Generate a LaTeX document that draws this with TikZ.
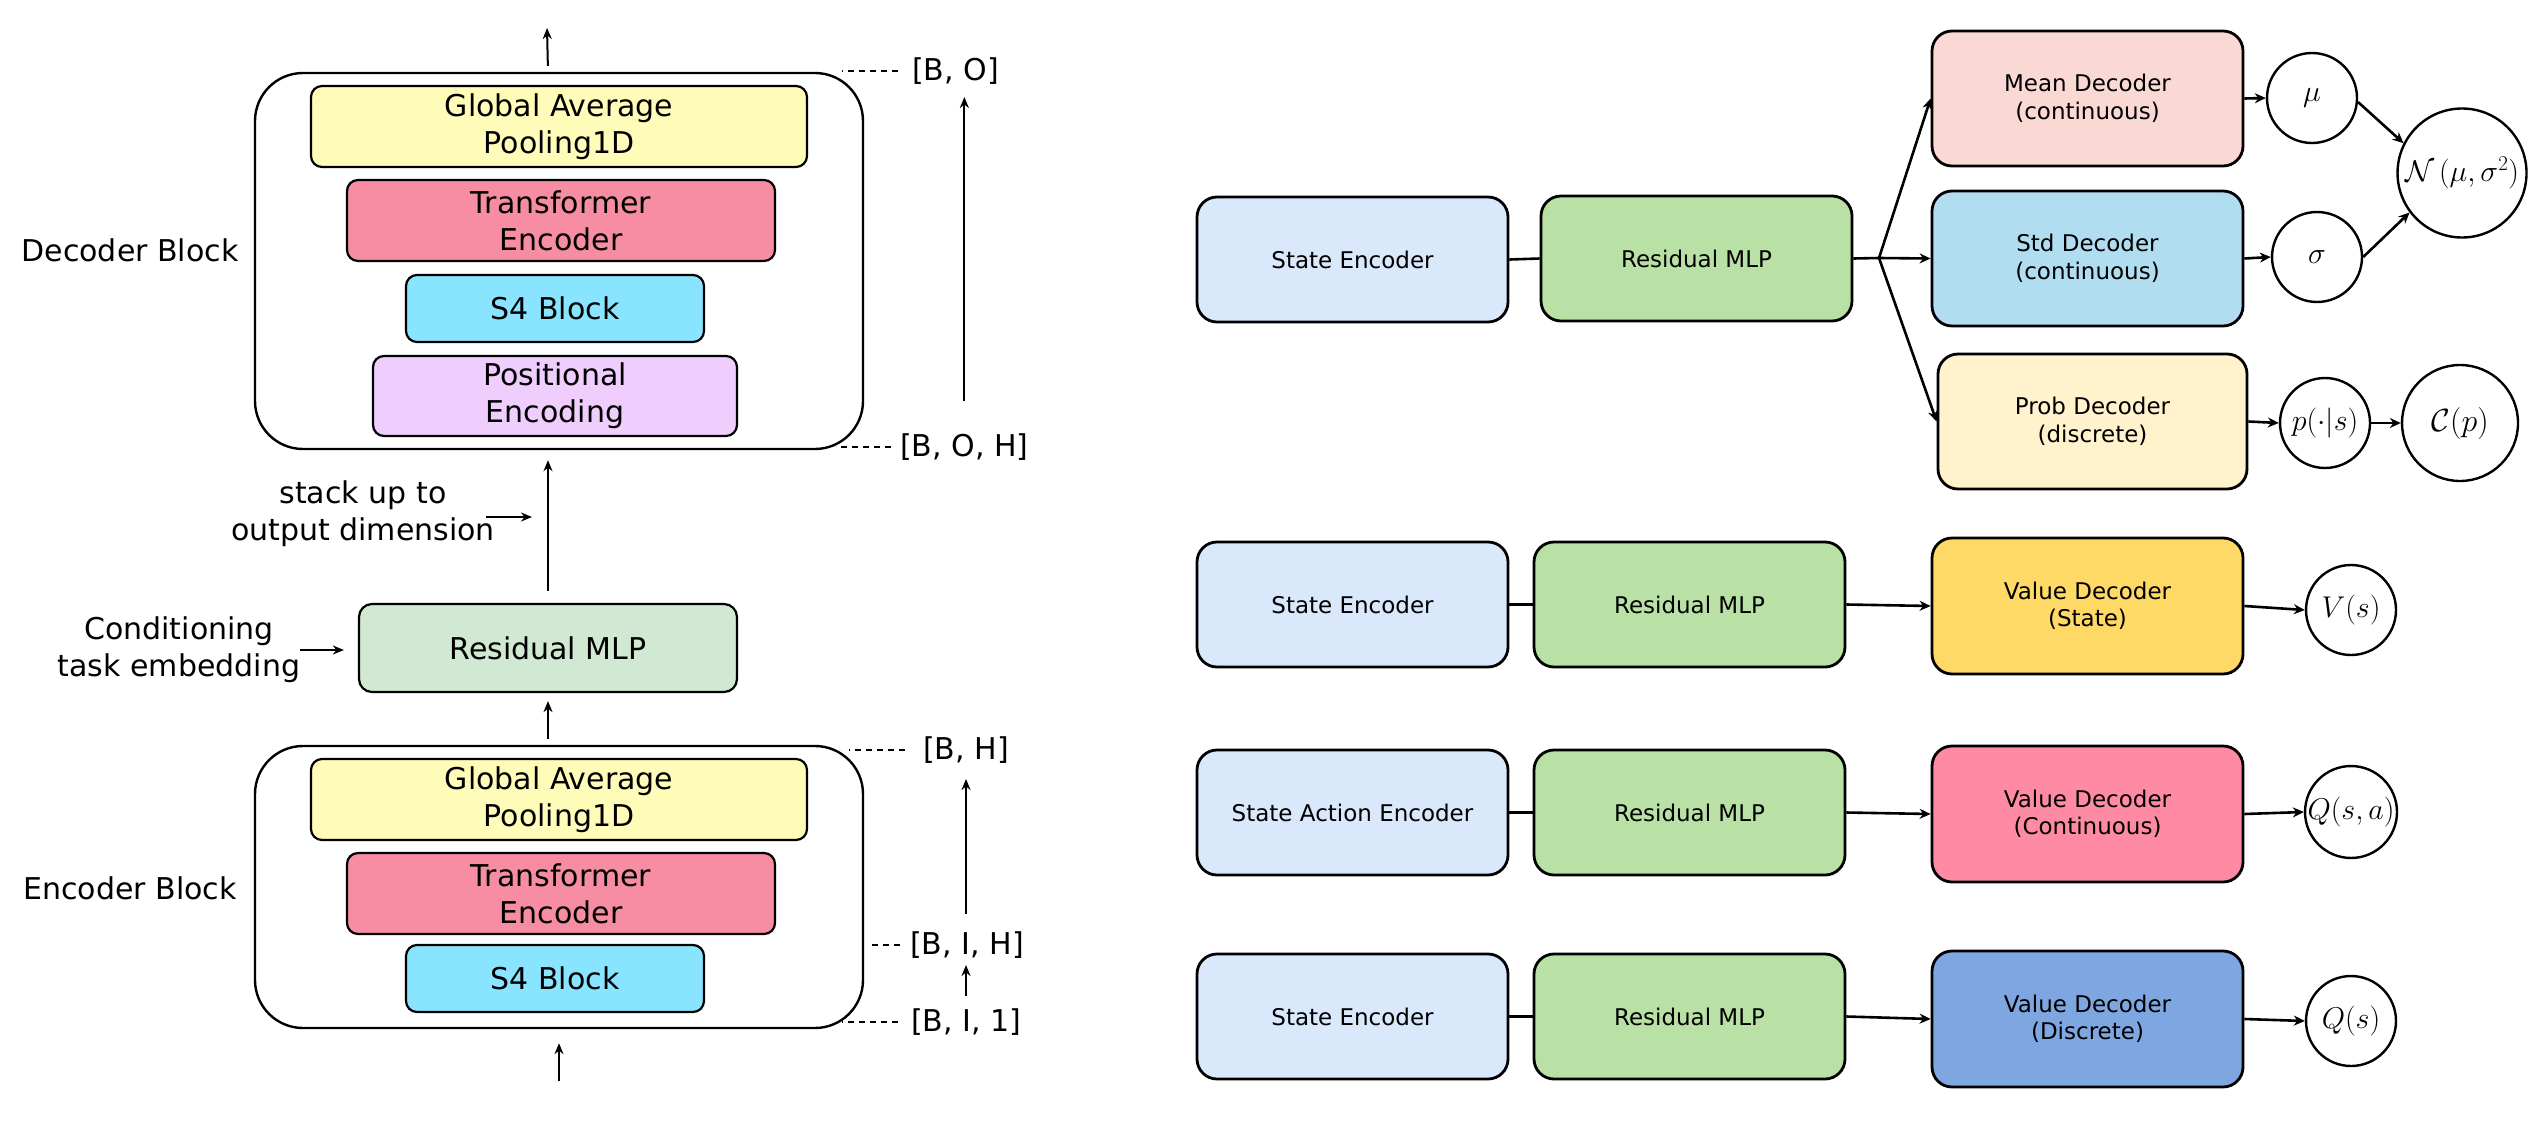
\RequirePackage{fix-cm}
\documentclass[tikz,border=0pt]{standalone}
\usepackage{amsmath}
\usepackage[no-math]{fontspec}
\setmainfont{DejaVu Sans}
\usetikzlibrary{arrows.meta,calc}
\definecolor{lYellow}{HTML}{FFFBB9}
\definecolor{lPink}{HTML}{F78DA2}
\definecolor{lCyan}{HTML}{89E5FF}
\definecolor{lLav}{HTML}{EFCDFD}
\definecolor{lGreen}{HTML}{D1E8D3}
\definecolor{rBlue}{HTML}{DAE8FC}
\definecolor{rGreen}{HTML}{B9E0A5}
\definecolor{rRed}{HTML}{FAD9D5}
\definecolor{rStd}{HTML}{B1DDF0}
\definecolor{rProb}{HTML}{FFF2CC}
\definecolor{rVS}{HTML}{FFD966}
\definecolor{rVC}{HTML}{FF8AA4}
\definecolor{rVD}{HTML}{7EA6E0}
\newcommand\lfont{\fontsize{30}{37}\selectfont}
\newcommand\rfont{\fontsize{23}{27.5}\selectfont}
\newcommand\mfont{\fontsize{30}{34}\selectfont}
\begin{document}
\begin{tikzpicture}[x=1pt,y=-1pt,
  lbox/.style={draw=black, line width=2.2pt, rounded corners=11pt, inner sep=0pt, align=center, font=\lfont},
  outerbox/.style={draw=black, line width=2.4pt, rounded corners=48pt, inner sep=0pt, minimum width=608pt},
  rbox/.style={draw=black, line width=2.8pt, rounded corners=20pt, align=center, font=\rfont, minimum width=311pt, minimum height=125pt, inner sep=0pt},
  circ/.style={draw=black, circle, line width=2.4pt, inner sep=0pt, minimum size=90pt, font=\mfont},
  larr/.style={line width=2pt, -{Stealth[length=11pt,width=9pt]}},
  rarr/.style={line width=2.6pt, -{Stealth[length=11pt,width=10pt]}},
  rline/.style={line width=2.6pt},
  dsh/.style={line width=2pt, dash pattern=on 6pt off 5pt},
  lab/.style={font=\lfont, inner sep=0pt, align=center}]
\useasboundingbox (0,0) rectangle (2542,1140);
\fill[white] (0,0) rectangle (2542,1140);

% ---------- left: decoder block ----------
\node[outerbox, minimum height=376pt] (decOuter) at (559,261) {};
\node[lbox, fill=lYellow, minimum width=496pt, minimum height=81pt] (dGAP) at (559,126.5) {Global Average\\Pooling1D};
\node[lbox, fill=lPink, minimum width=428pt, minimum height=81pt] (dTE) at (561,220.5) {Transformer\\Encoder};
\node[lbox, fill=lCyan, minimum width=298pt, minimum height=67pt] (dS4) at (555,308.5) {S4 Block};
\node[lbox, fill=lLav, minimum width=364pt, minimum height=80pt] (dPE) at (555,396) {Positional\\Encoding};
\node[lab] (decLab) at (130,250) {Decoder Block};

% ---------- left: residual MLP ----------
\node[lbox, fill=lGreen, rounded corners=13pt, minimum width=378pt, minimum height=88pt] (lMLP) at (548,648) {Residual MLP};
\node[lab] (cond) at (179,650) {Conditioning\\task embedding};
\node[lab] (stack) at (363,514) {stack up to\\output dimension};

% ---------- left: encoder block ----------
\node[outerbox, minimum height=282pt] (encOuter) at (559,887) {};
\node[lbox, fill=lYellow, minimum width=496pt, minimum height=81pt] (eGAP) at (559,799.5) {Global Average\\Pooling1D};
\node[lbox, fill=lPink, minimum width=428pt, minimum height=81pt] (eTE) at (561,893.5) {Transformer\\Encoder};
\node[lbox, fill=lCyan, minimum width=298pt, minimum height=67pt] (eS4) at (555,978.5) {S4 Block};
\node[lab] (encLab) at (130,888) {Encoder Block};

% ---------- left: shape labels ----------
\node[lab, anchor=west] (bO) at (912,71) {[B, O]};
\node[lab, anchor=west] (bOH) at (900,447) {[B, O, H]};
\node[lab, anchor=west] (bH) at (923,750) {[B, H]};
\node[lab, anchor=west] (bIH) at (910,945) {[B, I, H]};
\node[lab, anchor=west] (bI1) at (911,1022) {[B, I, 1]};

\draw[dsh] ([xshift=-14pt]bO.west) -- ++(-56,0);
\draw[dsh] ([xshift=-9pt]bOH.west) -- ++(-55,0);
\draw[dsh] ([xshift=-18pt]bH.west) -- ++(-56,0);
\draw[dsh] ([xshift=-10pt]bIH.west) -- ++(-30,0);
\draw[dsh] ([xshift=-13pt]bI1.west) -- ++(-56,0);

\draw[larr, shorten <=46pt, shorten >=26pt] (bOH.center) -- (bOH.center |- bO.center);
\draw[larr, shorten <=31pt, shorten >=29pt] (bH.center |- bIH.center) -- (bH.center);
\draw[larr, shorten <=26pt, shorten >=20pt] (bH.center |- bI1.center) -- (bH.center |- bIH.center);

% ---------- left: flow arrows ----------
\coordinate (outTop) at (547,28);
\coordinate (inBot) at (559,1081);
\coordinate (stkA) at (486,517);
\draw[larr, shorten <=6pt] (lMLP.north |- decOuter.north) -- (outTop);
\draw[larr, shorten <=12pt, shorten >=10pt] (lMLP.north) -- (lMLP.north |- decOuter.south);
\draw[larr, shorten <=6pt, shorten >=8pt] (lMLP.south |- encOuter.north) -- (lMLP.south);
\draw[larr, shorten >=14pt] (inBot) -- (encOuter.south);
\draw[larr, shorten >=14pt] (cond.east) -- (cond.east -| lMLP.west);
\draw[larr, shorten >=16pt] (stkA) -- (stkA -| lMLP.north);

% ---------- right: row 1 ----------
\node[rbox, fill=rBlue] (se1) at (1352.5,259.5) {State Encoder};
\node[rbox, fill=rGreen] (mlp1) at (1696.5,258.5) {Residual MLP};
\node[rbox, fill=rRed, minimum height=135pt] (mean) at (2087.5,98.5) {Mean Decoder\\(continuous)};
\node[rbox, fill=rStd, minimum height=135pt] (std) at (2087.5,258.5) {Std Decoder\\(continuous)};
\node[rbox, fill=rProb, minimum width=309pt, minimum height=135pt] (prob) at (2092.5,421.5) {Prob Decoder\\(discrete)};
\node[circ] (mu) at (2312,98) {$\mu$};
\node[circ] (sig) at (2317,257) {$\sigma$};
\node[circ, minimum size=129pt] (Nn) at (2462,173) {$\mathcal{N}\,(\mu,\sigma^2)$};
\node[circ] (pp) at (2325,423) {$p(\cdot|s)$};
\node[circ, minimum size=116pt] (Cc) at (2460,423) {\fontsize{32}{36}\selectfont$\mathcal{C}(p)$};

\coordinate (br) at (1879,258);
\draw[rline] (se1.east) -- (mlp1.west);
\draw[rline] (mlp1.east) -- (br);
\draw[rarr] (br) -- (mean.west);
\draw[rarr] (br) -- (std.west);
\draw[rarr] (br) -- (prob.west);
\draw[rarr] (mean.east) -- (mu.west);
\draw[rarr] (std.east) -- (sig.west);
\draw[rarr] (prob.east) -- (pp.west);
\draw[rarr] (pp.east) -- (Cc.west);
\draw[rarr] (mu.-5) -- (Nn.153);
\draw[rarr] (sig.east) -- (Nn.-143);

% ---------- right: row 2 ----------
\node[rbox, fill=rBlue] (se2) at (1352.5,604.5) {State Encoder};
\node[rbox, fill=rGreen] (mlp2) at (1689.5,604.5) {Residual MLP};
\node[rbox, fill=rVS, minimum height=136pt] (vds) at (2087.5,606) {Value Decoder\\(State)};
\node[circ] (vV) at (2351,610) {$V(s)$};
\draw[rline] (se2.east) -- (mlp2.west);
\draw[rarr] (mlp2.east) -- (vds.west);
\draw[rarr] (vds.east) -- (vV.west);

% ---------- right: row 3 ----------
\node[rbox, fill=rBlue] (sae) at (1352.5,812.5) {State Action Encoder};
\node[rbox, fill=rGreen] (mlp3) at (1689.5,812.5) {Residual MLP};
\node[rbox, fill=rVC, minimum height=136pt] (vdc) at (2087.5,814) {Value Decoder\\(Continuous)};
\node[circ] (vQa) at (2351,812) {$Q(s,a)$};
\draw[rline] (sae.east) -- (mlp3.west);
\draw[rarr] (mlp3.east) -- (vdc.west);
\draw[rarr] (vdc.east) -- (vQa.west);

% ---------- right: row 4 ----------
\node[rbox, fill=rBlue] (se4) at (1352.5,1016.5) {State Encoder};
\node[rbox, fill=rGreen] (mlp4) at (1689.5,1016.5) {Residual MLP};
\node[rbox, fill=rVD, minimum height=136pt] (vdd) at (2087.5,1019) {Value Decoder\\(Discrete)};
\node[circ] (vQ) at (2351,1021) {$Q(s)$};
\draw[rline] (se4.east) -- (mlp4.west);
\draw[rarr] (mlp4.east) -- (vdd.west);
\draw[rarr] (vdd.east) -- (vQ.west);
\end{tikzpicture}
\end{document}
